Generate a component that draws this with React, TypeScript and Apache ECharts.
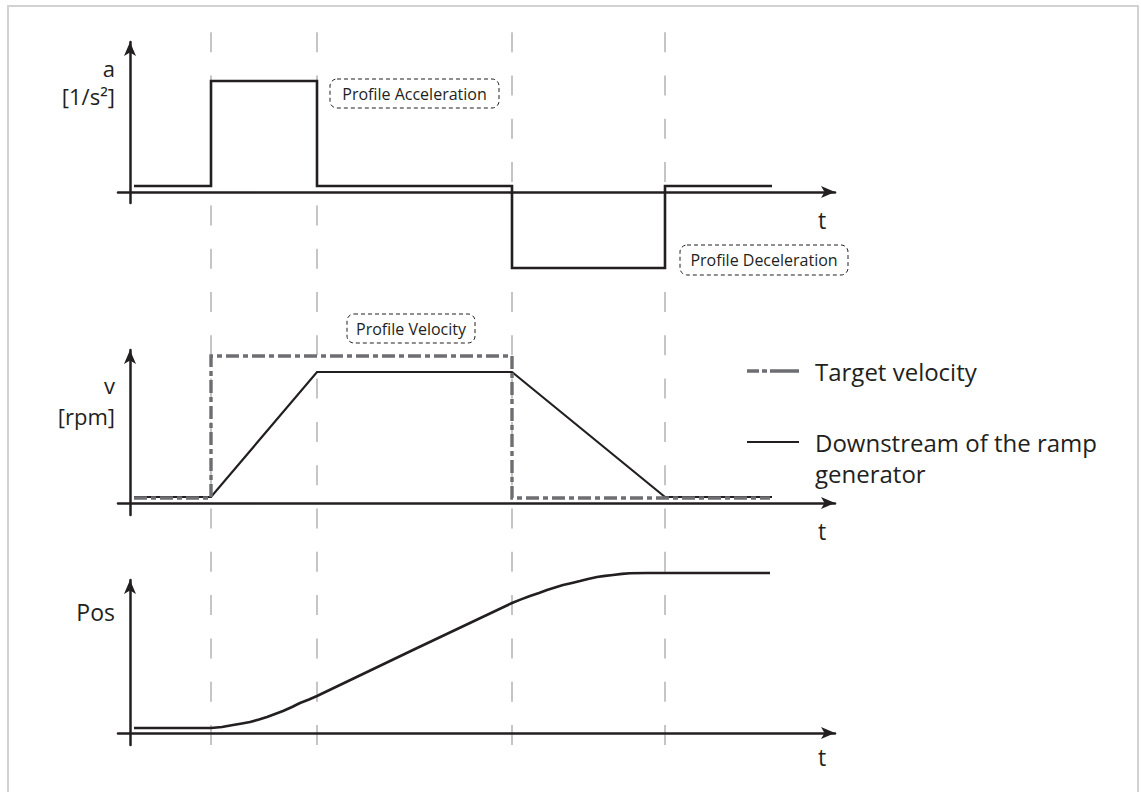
import React, { useEffect, useRef } from "react";
import * as echarts from "echarts";

// ---- data (time in arbitrary units, values in arbitrary units) ----
const phaseTimes = [8.1, 18.7, 38.2, 53.5];

const accelTimes = [0.4, 8.1, 18.7, 38.2, 53.5, 64.2];
const accelValues = [0.6, 11.1, 0.6, -7.6, 0.6, 0.6];

const targetTimes = [0.4, 8.1, 38.2, 64.0];
const targetValues = [0.5, 14.7, 0.5, 0.5];

const rampTimes = [0.4, 8.1, 18.7, 38.2, 53.5, 64.2];
const rampValues = [0.6, 0.6, 13.1, 13.1, 0.6, 0.6];

const posTimes = [0.4, 8.1, 9.2, 10.3, 11.2, 12.0, 12.9, 13.7, 14.5, 15.3, 16.2, 17.0, 17.9, 18.7, 28.4, 38.2, 39.1, 40.0, 40.9, 41.7, 42.5, 43.3, 44.2, 45.0, 45.8, 46.7, 47.5, 48.3, 49.2, 50.0, 51.7, 53.5, 64.0];
const posValues = [0.5, 0.5, 0.6, 0.8, 0.95, 1.1, 1.35, 1.6, 1.9, 2.2, 2.6, 3.0, 3.35, 3.7, 8.35, 13.0, 13.36, 13.7, 14.0, 14.3, 14.56, 14.8, 15.01, 15.2, 15.41, 15.6, 15.71, 15.8, 15.91, 15.98, 16.0, 16.0, 16.0];

const yLabels = [["a", "[1/s²]"], ["v", "[rpm]"], ["Pos"]];
const legendNames = ["Target velocity", "Downstream of the ramp\ngenerator"];
const profileLabels = ["Profile Acceleration", "Profile Deceleration", "Profile Velocity"];

const INK = "#231f20";
const GRAYLINE = "#6d6e71";
const FONT = "'Open Sans', 'Noto Sans', sans-serif";

const zip = (xs: number[], ys: number[]) => xs.map((x, i) => [x, ys[i]]);

export default function App() {
  const ref = useRef<HTMLDivElement>(null);
  useEffect(() => {
    if (!ref.current) return;
    const chart = echarts.init(ref.current, undefined, { renderer: "svg" });

    const xAxisBase = (gridIndex: number, show: boolean) => ({
      type: "value",
      gridIndex,
      min: -1.2,
      max: 70.5,
      show,
      z: 3,
      axisLine: {
        show,
        onZero: true,
        symbol: ["none", "arrow"],
        symbolSize: [9, 14],
        lineStyle: { color: INK, width: 2.5 },
      },
      axisTick: { show: false },
      axisLabel: { show: false },
      splitLine: { show: false },
    });
    const yAxisBase = (gridIndex: number, min: number, max: number, show: boolean) => ({
      type: "value",
      gridIndex,
      min,
      max,
      show,
      z: 3,
      axisLine: {
        show,
        onZero: true,
        symbol: ["none", "arrow"],
        symbolSize: [9, 14],
        lineStyle: { color: INK, width: 2.5 },
      },
      axisTick: { show: false },
      axisLabel: { show: false },
      splitLine: { show: false },
    });

    const text = (x: number, y: number, t: string, size: number, align = "left") => ({
      type: "text",
      x,
      y,
      z: 10,
      style: {
        text: t,
        fill: INK,
        font: `${size}px ${FONT}`,
        textAlign: align,
        textVerticalAlign: "middle",
      },
    });

    const box = (x: number, y: number, w: number, h: number, label: string) => [
      {
        type: "rect",
        shape: { x, y, width: w, height: h, r: 7 },
        z: 10,
        style: { fill: "#fff", stroke: INK, lineWidth: 1, lineDash: [4, 3] },
      },
      text(x + w / 2, y + h / 2, label, 16, "center"),
    ];

    const option: any = {
      animation: false,
      backgroundColor: "#ffffff",
      grid: [
        { left: 118, right: 306, top: 42, bottom: 589 },
        { left: 118, right: 306, top: 350, bottom: 277 },
        { left: 118, right: 306, top: 580, bottom: 47 },
        { left: 118, right: 306, top: 32, bottom: 47 },
      ],
      xAxis: [xAxisBase(0, true), xAxisBase(1, true), xAxisBase(2, true), xAxisBase(3, false)],
      yAxis: [
        yAxisBase(0, -1.1, 15.0, true),
        yAxisBase(1, -1.2, 15.3, true),
        yAxisBase(2, -1.2, 15.3, true),
        yAxisBase(3, 0, 1, false),
      ],
      series: [
        {
          type: "line",
          name: "phases",
          xAxisIndex: 3,
          yAxisIndex: 3,
          data: [],
          silent: true,
          z: 1,
          markLine: {
            silent: true,
            z: 1,
            symbol: ["none", "none"],
            label: { show: false },
            lineStyle: { color: "#b3b3b3", width: 1.5, type: [20, 23.3] },
            data: phaseTimes.map((t) => ({ xAxis: t })),
          },
        },
        {
          type: "line",
          name: "a",
          xAxisIndex: 0,
          yAxisIndex: 0,
          data: zip(accelTimes, accelValues),
          step: "end",
          clip: false,
          showSymbol: false,
          z: 4,
          lineStyle: { color: INK, width: 2.6, join: "miter", cap: "butt" },
        },
        {
          type: "line",
          name: legendNames[1],
          xAxisIndex: 1,
          yAxisIndex: 1,
          data: zip(rampTimes, rampValues),
          clip: false,
          showSymbol: false,
          z: 4,
          lineStyle: { color: INK, width: 2.2, join: "miter" },
        },
        {
          type: "line",
          name: legendNames[0],
          xAxisIndex: 1,
          yAxisIndex: 1,
          data: zip(targetTimes, targetValues),
          step: "end",
          clip: false,
          showSymbol: false,
          z: 5,
          lineStyle: { color: GRAYLINE, width: 3.4, type: [13, 4, 5, 4], join: "miter", cap: "butt" },
        },
        {
          type: "line",
          name: "Pos",
          xAxisIndex: 2,
          yAxisIndex: 2,
          data: zip(posTimes, posValues),
          clip: false,
          showSymbol: false,
          z: 4,
          lineStyle: { color: INK, width: 2.6, join: "round" },
        },
      ],
      graphic: [
        {
          type: "rect",
          shape: { x: 8, y: 6, width: 1130, height: 800 },
          z: 0,
          silent: true,
          style: { fill: "none", stroke: "#d2d2d2", lineWidth: 2 },
        },
        // axis labels
        text(115, 68, yLabels[0][0], 22, "right"),
        text(115, 96, yLabels[0][1], 22, "right"),
        text(115, 385, yLabels[1][0], 22, "right"),
        text(115, 416, yLabels[1][1], 22, "right"),
        text(115, 612, yLabels[2][0], 23, "right"),
        text(822, 220, "t", 23, "center"),
        text(822, 531, "t", 23, "center"),
        text(822, 757, "t", 23, "center"),
        // legend
        {
          type: "line",
          shape: { x1: 747, y1: 371, x2: 799, y2: 371 },
          z: 10,
          style: { stroke: GRAYLINE, lineWidth: 3.4, lineDash: [12, 3, 5, 3, 29, 0] },
        },
        text(815, 371, legendNames[0], 24, "left"),
        {
          type: "line",
          shape: { x1: 747, y1: 442, x2: 799, y2: 442 },
          z: 10,
          style: { stroke: INK, lineWidth: 2.2 },
        },
        text(815, 442, "Downstream of the ramp", 24, "left"),
        text(815, 473, "generator", 24, "left"),
        // profile boxes
        ...box(330, 79, 169, 29, profileLabels[0]),
        ...box(680, 245, 168, 30, profileLabels[1]),
        ...box(347, 314, 128, 29, profileLabels[2]),
      ],
    };

    chart.setOption(option);
    return () => chart.dispose();
  }, []);

  return (
    <div
      ref={ref}
      style={{ position: "fixed", left: 0, top: 0, width: 1141, height: 792, background: "#fff" }}
    />
  );
}
